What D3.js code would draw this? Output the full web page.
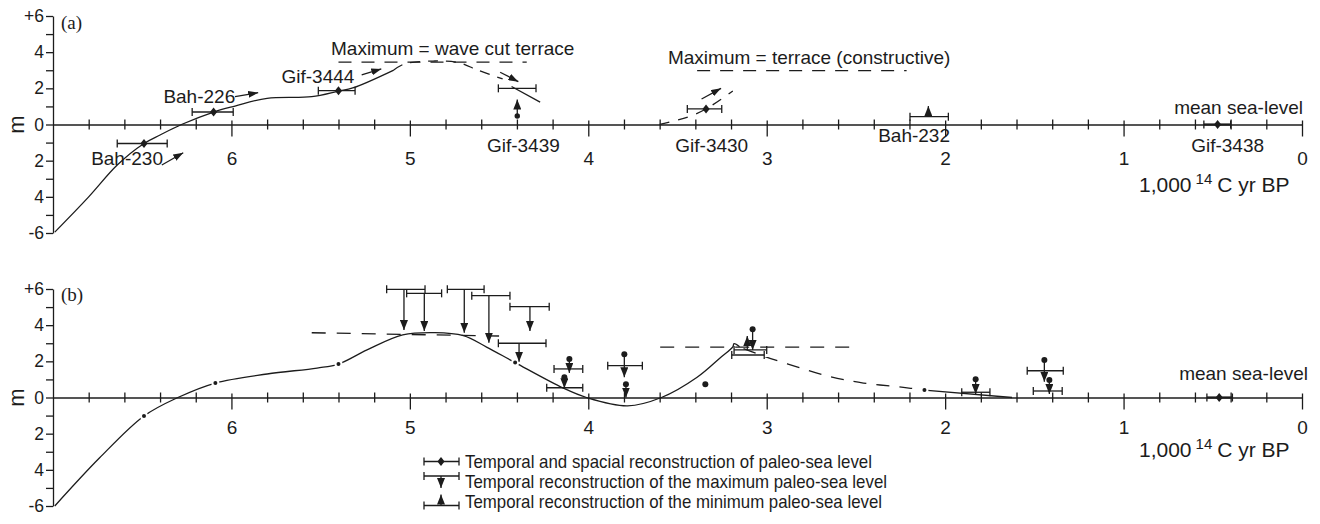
<!DOCTYPE html>
<html><head><meta charset="utf-8">
<script src="https://cdn.jsdelivr.net/npm/d3@7"></script>
<style>
body{margin:0;background:#fff;}
svg{display:block;background:#fff;}
</style></head><body>
<svg id="chart" width="1320" height="524"></svg>
<script>
// ================= DATA (years in 1,000 14C yr BP, values in m) =================
const majorYears = [6, 5, 4, 3, 2, 1, 0];
const minorYears = [6.8, 6.6, 6.4, 6.2, 5.8, 5.6, 5.4, 5.2, 4.8, 4.6, 4.4, 4.2, 3.8, 3.6, 3.4, 3.2,
                    2.8, 2.6, 2.4, 2.2, 1.8, 1.6, 1.4, 1.2, 0.8, 0.6, 0.4, 0.2];
const yTickValues = [6, 5, 4, 3, 2, 1, 0, -1, -2, -3, -4, -5, -6];
const yLabelValues = [6, 4, 2, 0, -2, -4, -6];
const yLabelTexts = ["+6", "4", "2", "0", "2", "4", "-6"];

// ---- panel (a) ----
const curveA_solid = [[6.99,-5.95],[6.80,-4.0],[6.64,-2.24],[6.49,-1.05],[6.40,-0.58],[6.28,0],[6.10,0.69],
                      [5.98,1.02],[5.80,1.45],[5.55,1.54],[5.40,1.85],[5.32,2.02],[5.09,3.01]];
const curveA_dashed = [[5.09,3.01],[5.03,3.35],[4.87,3.51],[4.73,3.43],[4.62,3.01],[4.48,2.52]];
const curveA_solid2 = [[4.43,2.10],[4.27,1.24]];
const curveA_gif3430 = [[3.60,0],[3.44,0.42],[3.34,0.86],[3.19,1.85]];
const waveCutLineA = [[5.40,3.45],[4.345,3.45]];
const terraceLineA = [[3.39,2.98],[2.216,2.98]];
// diamond + horizontal bar: [year, value, barFrom, barTo]
const spatialA = [[6.49,-1.05,6.64,6.36],[6.10,0.69,6.22,5.99],[5.40,1.87,5.513,5.307],
                  [3.34,0.86,3.445,3.252],[0.473,0,0.55,0.40]];
// bar only: [barFrom, barTo, value]
const barsA = [[4.504,4.293,2.0]];
// dot + arrow up: [year, dotValue, tipValue]
const minDotA = [[4.398,0.47,1.38]];
// bar + arrow up: [year, barValue, tipValue, barFrom, barTo]
const minBarA = [[2.094,0.43,1.02,2.197,1.982]];
// arrows: [year1, value1, year2, value2]
const arrowsA = [[6.39,-2.24,6.27,-1.56],[5.98,1.54,5.85,1.76],[5.27,2.74,5.16,3.07],
                 [4.494,2.89,4.392,2.37],[3.365,1.41,3.256,2.0]];
// sample labels
const labelNamesA = ["Bah-230","Bah-226","Gif-3444","Gif-3439","Gif-3430","Bah-232","Gif-3438"];
const labelYearsA = [6.585, 6.18, 5.515, 4.364, 3.308, 2.174, 0.417];
const labelValsA  = [-2.24, 1.17, 2.28, -1.50, -1.50, -0.97, -1.50];
const notesA = [["Maximum = wave cut terrace", 4.76, 3.84], ["Maximum = terrace (constructive)", 2.762, 3.35]];

// ---- panel (b) ----
const curveB_solid = [[6.99,-6.0],[6.74,-3.35],[6.49,-1.02],[6.30,0],[6.09,0.80],[5.80,1.30],[5.52,1.63],
                      [5.40,1.85],[5.24,2.63],[5.04,3.46],[4.86,3.59],[4.70,3.42],[4.57,2.79],[4.41,1.93],
                      [4.14,0.52],[4.01,0],[3.78,-0.46],[3.59,0],[3.39,1.12],[3.26,2.20],[3.19,2.80],
                      [3.183,2.98],[3.152,2.81]];
const curveB_dashed = [[3.13,2.70],[3.009,2.26],[2.831,1.70],[2.645,1.15],[2.458,0.80],[2.234,0.56],[2.116,0.41]];
const curveB_solid2 = [[2.116,0.41],[1.625,0]];
const curveDotsB = [[6.49,-1.02],[6.09,0.80],[5.40,1.85],[4.41,1.93],[2.116,0.41]];
const looseDotsB = [[3.344,0.73]];
const maxLineB = [[5.55,3.58],[4.50,3.40]];
const terraceLineB = [[3.597,2.79],[2.532,2.79]];
// max markers (bar on top, arrow down): [arrowYear, barFrom, barTo, barValue, tipValue]
const maxBarsB = [[5.033,5.130,4.915,5.98,3.73],[4.919,5.018,4.822,5.76,3.68],[4.695,4.790,4.584,5.98,3.58],
                  [4.557,4.653,4.439,5.63,3.03],[4.327,4.439,4.219,5.02,3.68],[4.388,4.504,4.237,3.00,1.98]];
// dot + arrow down: [year, dotValue, tipValue]
const dotMaxB = [[4.106,2.13,1.36],[4.134,1.12,0.51],[3.798,2.39,1.12],[3.789,0.73,0.0],[3.079,3.77,2.63],
                 [1.829,1.01,0.19],[1.444,2.07,0.87],[1.416,0.97,0.19]];
// horizontal bars: [barFrom, barTo, value]
const barsB = [[4.192,4.031,1.58],[4.233,4.031,0.54],[3.891,3.697,1.76],[3.183,3.0,2.63],[3.196,3.014,2.35],
               [1.907,1.749,0.29],[1.540,1.338,1.48],[1.506,1.344,0.36]];
// arrow up from bar: [year, baseValue, tipValue]
const minUpB = [[3.109,2.63,3.40]];
const spatialB = [[0.464,0,0.533,0.39]];

const legendTexts = ["Temporal and spacial reconstruction of paleo-sea level",
                     "Temporal reconstruction of the maximum paleo-sea level",
                     "Temporal reconstruction of the minimum paleo-sea level"];

// ================= DRAWING =================
const FONT = '"Liberation Sans", Arial, Helvetica, sans-serif';
const INK = '#1c1c1c';
const SW = 1.3;
const svg = d3.select('#chart');
const x = d3.scaleLinear().domain([7, 0]).range([53, 1302]);
const yA = d3.scaleLinear().domain([-6, 6]).range([233, 16]);
const yB = d3.scaleLinear().domain([-6, 6]).range([506, 289]);

const defs = svg.append('defs');
defs.append('marker').attr('id', 'ah').attr('viewBox', '0 0 10 7').attr('refX', 10).attr('refY', 3.5)
  .attr('markerWidth', 10).attr('markerHeight', 7).attr('markerUnits', 'userSpaceOnUse').attr('orient', 'auto')
  .append('path').attr('d', 'M0,0L10,3.5L0,7Z').attr('fill', INK);
defs.append('marker').attr('id', 'ahv').attr('viewBox', '0 0 10 8').attr('refX', 10).attr('refY', 4)
  .attr('markerWidth', 10).attr('markerHeight', 8).attr('markerUnits', 'userSpaceOnUse').attr('orient', 'auto')
  .append('path').attr('d', 'M0,0L10,4L0,8Z').attr('fill', INK);

function txt(g, s, px, py, size, anchor) {
  return g.append('text').attr('x', px).attr('y', py).attr('font-family', FONT).attr('font-size', size)
    .attr('fill', INK).attr('text-anchor', anchor || 'start').text(s);
}

function drawAxes(y, cfg) {
  const g = svg.append('g');
  const ya = d3.axisLeft(y).tickValues(yTickValues).tickSize(7).tickSizeOuter(0).tickPadding(2)
    .tickFormat(d => { const i = yLabelValues.indexOf(d); return i >= 0 ? yLabelTexts[i] : ''; });
  const gy = g.append('g').attr('transform', `translate(${x(7)},0)`).call(ya);
  gy.selectAll('text').attr('font-size', 17.5).attr('font-family', FONT).attr('fill', INK);

  const gx = g.append('g').attr('transform', `translate(0,${y(0)})`)
    .call(d3.axisBottom(x).tickValues(majorYears).tickSize(12).tickSizeOuter(0).tickFormat(d3.format('d')));
  gx.selectAll('.tick line').attr('y1', -4);
  gx.selectAll('.tick text').attr('y', cfg.tickLabelY).attr('dy', 0).attr('font-size', 19)
    .attr('font-family', FONT).attr('fill', INK);
  const gm = g.append('g').attr('transform', `translate(0,${y(0)})`)
    .call(d3.axisBottom(x).tickValues(minorYears).tickSize(5).tickFormat(''));
  gm.select('.domain').remove();
  gm.selectAll('.tick line').attr('y1', -5);
  g.selectAll('.domain, .tick line').attr('stroke', INK).attr('stroke-width', SW);

  g.append('text').attr('transform', `translate(24,${y(0)}) rotate(-90)`).attr('text-anchor', 'middle')
    .attr('font-family', FONT).attr('font-size', 22).attr('fill', INK).text('m');
  g.append('text').attr('x', 61).attr('y', cfg.letterY).attr('font-family', '"Liberation Serif","Times New Roman",serif')
    .attr('font-size', 19).attr('fill', INK).text(cfg.letter);
  txt(g, 'mean sea-level', cfg.mslX, y(0) - cfg.mslOff, 19, 'end');
  const t = g.append('text').attr('x', 1139).attr('y', cfg.unitY).attr('font-family', FONT).attr('font-size', 21).attr('fill', INK);
  t.append('tspan').text('1,000');
  t.append('tspan').attr('dx', 4).attr('dy', -8).attr('font-size', 15).text('14');
  t.append('tspan').attr('dx', 5).attr('dy', 8).text('C yr BP');
}

function line(y, curve) {
  return d3.line().x(d => x(d[0])).y(d => y(d[1])).curve(curve || d3.curveCatmullRom.alpha(0.5));
}
function path(g, y, data, dash, curve) {
  g.append('path').datum(data).attr('d', line(y, curve)).attr('fill', 'none').attr('stroke', INK)
    .attr('stroke-width', SW).attr('stroke-dasharray', dash || null);
}
function hbar(g, y, x0, x1, v, w) {
  const yy = y(v);
  g.append('line').attr('x1', x(x0)).attr('x2', x(x1)).attr('y1', yy).attr('y2', yy).attr('stroke', INK).attr('stroke-width', w || SW);
  [x0, x1].forEach(e => g.append('line').attr('x1', x(e)).attr('x2', x(e)).attr('y1', yy - 4).attr('y2', yy + 4)
    .attr('stroke', INK).attr('stroke-width', SW));
}
function diamond(g, px, py) {
  g.append('path').attr('d', `M${px},${py - 4.5}L${px + 3.6},${py}L${px},${py + 4.5}L${px - 3.6},${py}Z`).attr('fill', INK);
}
function arrow(g, x1, y1, x2, y2, m) {
  g.append('line').attr('x1', x1).attr('y1', y1).attr('x2', x2).attr('y2', y2).attr('stroke', INK)
    .attr('stroke-width', SW).attr('marker-end', `url(#${m || 'ah'})`);
}
function dot(g, px, py, r, gap) {
  g.append('circle').attr('cx', px).attr('cy', py).attr('r', r).attr('fill', INK)
    .attr('stroke', gap ? '#fff' : 'none').attr('stroke-width', gap ? 2 : 0);
}

// ---------- panel (a) ----------
drawAxes(yA, { tickLabelY: 40, letter: '(a)', letterY: 29, mslX: 1303, mslOff: 11, unitY: 192 });
const gA = svg.append('g');
path(gA, yA, waveCutLineA, '13,10', d3.curveLinear);
path(gA, yA, terraceLineA, '13,10', d3.curveLinear);
path(gA, yA, curveA_solid);
path(gA, yA, curveA_dashed, '10,8');
path(gA, yA, curveA_solid2, null, d3.curveLinear);
path(gA, yA, curveA_gif3430, '10,9');
spatialA.forEach(d => { hbar(gA, yA, d[2], d[3], d[1], d[1] === 0 ? 2.2 : SW); diamond(gA, x(d[0]), yA(d[1])); });
barsA.forEach(d => hbar(gA, yA, d[0], d[1], d[2]));
minDotA.forEach(d => { dot(gA, x(d[0]), yA(d[1]), 2.7); arrow(gA, x(d[0]), yA(d[1]), x(d[0]), yA(d[2]), 'ahv'); });
minBarA.forEach(d => { hbar(gA, yA, d[3], d[4], d[1]); arrow(gA, x(d[0]), yA(d[1]), x(d[0]), yA(d[2]), 'ahv'); });
arrowsA.forEach(d => arrow(gA, x(d[0]), yA(d[1]), x(d[2]), yA(d[3])));
labelNamesA.forEach((s, i) => txt(gA, s, x(labelYearsA[i]), yA(labelValsA[i]), 19, 'middle'));
notesA.forEach(d => txt(gA, d[0], x(d[1]), yA(d[2]), 19, 'middle'));

// ---------- panel (b) ----------
drawAxes(yB, { tickLabelY: 36, letter: '(b)', letterY: 301, mslX: 1308, mslOff: 18, unitY: 457 });
const gB = svg.append('g');
path(gB, yB, maxLineB, '14,11', d3.curveLinear);
path(gB, yB, terraceLineB, '14,11', d3.curveLinear);
path(gB, yB, curveB_solid);
path(gB, yB, curveB_dashed, '13,10');
path(gB, yB, curveB_solid2, null, d3.curveLinear);
curveDotsB.forEach(d => dot(gB, x(d[0]), yB(d[1]), 3, true));
looseDotsB.forEach(d => dot(gB, x(d[0]), yB(d[1]), 3));
maxBarsB.forEach(d => { hbar(gB, yB, d[1], d[2], d[3]); arrow(gB, x(d[0]), yB(d[3]), x(d[0]), yB(d[4]), 'ahv'); });
barsB.forEach(d => hbar(gB, yB, d[0], d[1], d[2]));
dotMaxB.forEach(d => { dot(gB, x(d[0]), yB(d[1]), 3); arrow(gB, x(d[0]), yB(d[1]), x(d[0]), yB(d[2]), 'ahv'); });
minUpB.forEach(d => arrow(gB, x(d[0]), yB(d[1]), x(d[0]), yB(d[2]), 'ahv'));
spatialB.forEach(d => { hbar(gB, yB, d[2], d[3], d[1], 2.2); diamond(gB, x(d[0]), yB(d[1])); });

// ---------- legend ----------
const gL = svg.append('g');
const lx0 = 424, lx1 = 459, lxc = 441, ltx = 465;
const rowY = [461.5, 481, 501];
gL.append('line').attr('x1', lx0).attr('x2', lx1).attr('y1', rowY[0]).attr('y2', rowY[0]).attr('stroke', INK).attr('stroke-width', SW);
[lx0, lx1].forEach(e => gL.append('line').attr('x1', e).attr('x2', e).attr('y1', rowY[0] - 4).attr('y2', rowY[0] + 4).attr('stroke', INK).attr('stroke-width', SW));
diamond(gL, lxc, rowY[0]);
const r2 = rowY[1] - 5;
gL.append('line').attr('x1', lx0).attr('x2', lx1).attr('y1', r2).attr('y2', r2).attr('stroke', INK).attr('stroke-width', SW);
[lx0, lx1].forEach(e => gL.append('line').attr('x1', e).attr('x2', e).attr('y1', r2 - 4).attr('y2', r2 + 4).attr('stroke', INK).attr('stroke-width', SW));
arrow(gL, lxc, r2, lxc, r2 + 12, 'ahv');
const r3 = rowY[2] + 4.5;
gL.append('line').attr('x1', lx0).attr('x2', lx1).attr('y1', r3).attr('y2', r3).attr('stroke', INK).attr('stroke-width', SW);
[lx0, lx1].forEach(e => gL.append('line').attr('x1', e).attr('x2', e).attr('y1', r3 - 4).attr('y2', r3 + 4).attr('stroke', INK).attr('stroke-width', SW));
arrow(gL, lxc, r3, lxc, r3 - 11, 'ahv');
const legendWidths = [407, 422, 417];
legendTexts.forEach((s, i) => txt(gL, s, ltx, rowY[i] + 6.5, 19).attr('textLength', legendWidths[i]).attr('lengthAdjust', 'spacingAndGlyphs'));
</script>
</body></html>
